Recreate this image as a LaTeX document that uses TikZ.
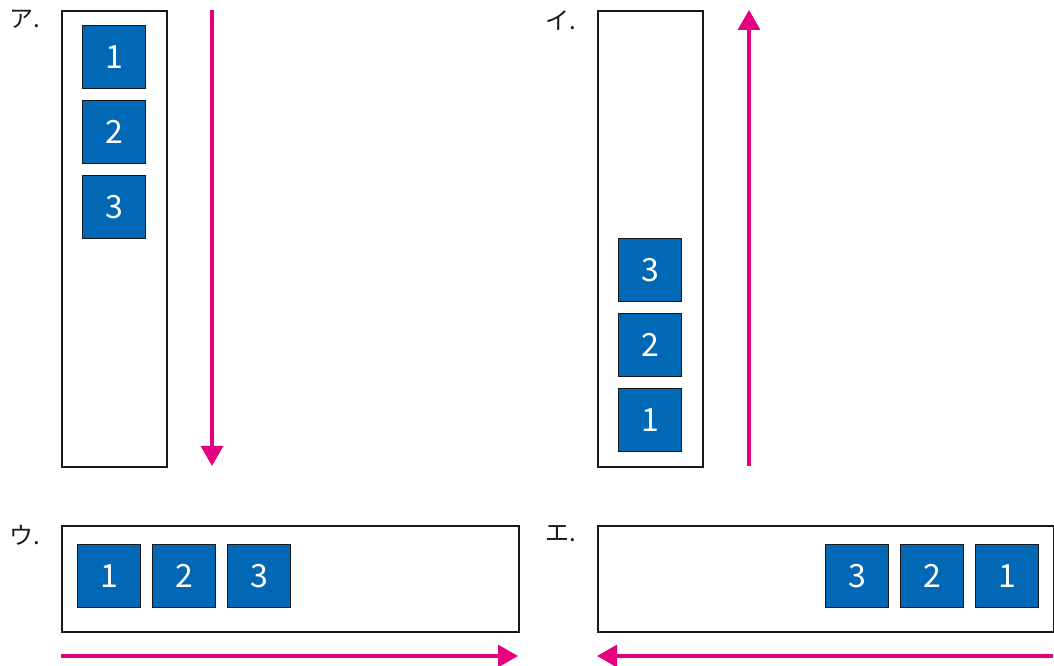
\documentclass[tikz,border=0pt]{standalone}
\usepackage{fontspec}
\setmainfont{Noto Sans CJK JP}
\usetikzlibrary{arrows.meta}
\definecolor{boxblue}{RGB}{0,104,180}
\definecolor{arrmag}{RGB}{228,0,127}
\tikzset{
  panel/.style={draw=black!90, line width=1.2pt, fill=none, anchor=north west, inner sep=0pt},
  item/.style={draw=black!90, line width=1pt, fill=boxblue, text=white, minimum size=47.25pt, inner sep=0pt, anchor=north west, font=\fontsize{24pt}{24pt}\selectfont},
  lab/.style={anchor=north west, inner sep=0pt, font=\fontsize{18pt}{18pt}\selectfont, text=black!90},
  flow/.style={draw=arrmag, line width=2.3pt, -{Triangle[length=15pt,width=16.5pt]}}
}
\begin{document}
\begin{tikzpicture}[x=0.75pt,y=-0.75pt]
\useasboundingbox (0,0) rectangle (1054,666);
% panel A
\node[lab] (la) at (9,10) {ア.};
\node[panel, minimum width=78.75pt, minimum height=342pt] (pa) at (61,10) {};
\node[item] (a1) at (82,25) {1};
\node[item] (a2) at (82,100) {2};
\node[item] (a3) at (82,175) {3};
\coordinate (as) at (212,10);
\coordinate (ae) at (212,466);
\draw[flow] (as) -- (ae);
% panel I
\node[lab] (li) at (545,10) {イ.};
\node[panel, minimum width=78.75pt, minimum height=342pt] (pi) at (597,10) {};
\node[item] (i3) at (618,238) {3};
\node[item] (i2) at (618,313) {2};
\node[item] (i1) at (618,388) {1};
\coordinate (is) at (749,466);
\coordinate (ie) at (749,10);
\draw[flow] (is) -- (ie);
% panel U
\node[lab] (lu) at (9,525) {ウ.};
\node[panel, minimum width=342.75pt, minimum height=79.5pt] (pu) at (61,525) {};
\node[item] (u1) at (77,544) {1};
\node[item] (u2) at (152,544) {2};
\node[item] (u3) at (227,544) {3};
\coordinate (us) at (61,656);
\coordinate (ue) at (518,656);
\draw[flow] (us) -- (ue);
% panel E
\node[lab] (le) at (545,525) {エ.};
\node[panel, minimum width=342pt, minimum height=79.5pt] (pe) at (597,525) {};
\node[item] (e3) at (825,544) {3};
\node[item] (e2) at (900,544) {2};
\node[item] (e1) at (975,544) {1};
\coordinate (es) at (1053,656);
\coordinate (ee) at (597,656);
\draw[flow] (es) -- (ee);
\end{tikzpicture}
\end{document}
